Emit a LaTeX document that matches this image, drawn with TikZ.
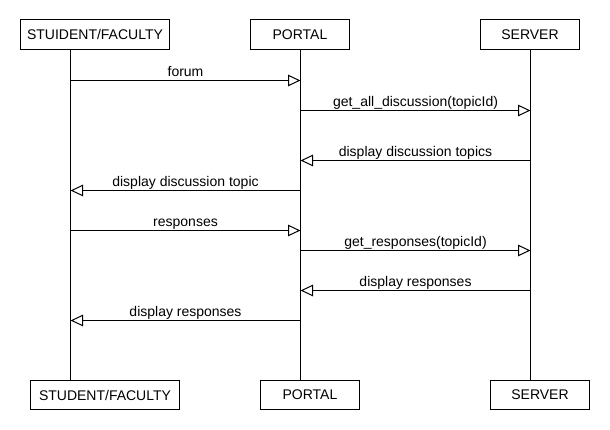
\documentclass[tikz,border=0pt]{standalone}
\usepackage{fontspec}
\setmainfont{Liberation Sans}
\usetikzlibrary{arrows.meta}
\begin{document}
\begin{tikzpicture}[x=1pt,y=-1pt,
  every node/.style={font=\fontsize{14}{16}\selectfont},
  actor/.style={draw,line width=1pt,minimum height=29.5pt,inner sep=0pt,anchor=center},
  wide/.style={actor,minimum width=149pt},
  narrow/.style={actor,minimum width=99pt},
  life/.style={line width=1pt},
  msgline/.style={line width=1pt,-{Triangle[open,length=12.5pt,width=11.5pt,line width=1pt]}},
  msg/.style={anchor=base,yshift=4pt,inner sep=0pt}]
\useasboundingbox[fill=white] (0,0) rectangle (610,430);
% actors top
\node[wide]   (st) at (95,34.75)  {STUIDENT/FACULTY};
\node[narrow] (pt) at (300,34.75) {PORTAL};
\node[narrow] (vt) at (530,34.75) {SERVER};
% actors bottom
\node[wide]   (sb) at (105,395) {STUDENT/FACULTY};
\node[narrow] (pb) at (310,395) {PORTAL};
\node[narrow] (vb) at (540,395) {SERVER};
% lifeline end points
\coordinate (s0) at (70.5,49.5);  \coordinate (s9) at (70.5,380.25);
\coordinate (p0) at (300.5,49.5); \coordinate (p9) at (300.5,380.25);
\coordinate (v0) at (530.5,49.5); \coordinate (v9) at (530.5,380.25);
\draw[life] (s0) -- (s9);
\draw[life] (p0) -- (p9);
\draw[life] (v0) -- (v9);
% message points
\foreach \n/\y in {1/80.5,2/110.5,3/160.5,4/190.5,5/230.5,6/250.5,7/290.5,8/320.5}{
  \coordinate (s\n) at (70.5,\y);
  \coordinate (p\n) at (300.5,\y);
  \coordinate (v\n) at (530.5,\y);
}
\draw[msgline] (s1) -- node[msg]{forum} (p1);
\draw[msgline] (p2) -- node[msg]{get\_all\_discussion(topicId)} (v2);
\draw[msgline] (v3) -- node[msg]{display discussion topics} (p3);
\draw[msgline] (p4) -- node[msg]{display discussion topic} (s4);
\draw[msgline] (s5) -- node[msg]{responses} (p5);
\draw[msgline] (p6) -- node[msg]{get\_responses(topicId)} (v6);
\draw[msgline] (v7) -- node[msg]{display responses} (p7);
\draw[msgline] (p8) -- node[msg]{display responses} (s8);
\end{tikzpicture}
\end{document}
